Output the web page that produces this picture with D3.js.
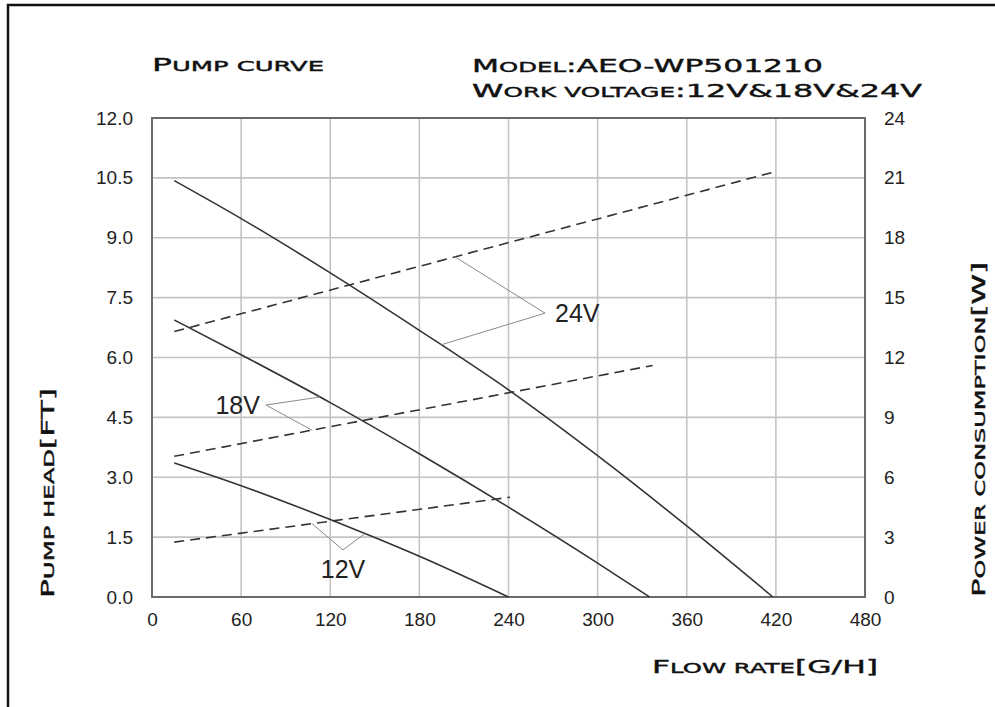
<!DOCTYPE html>
<html>
<head>
<meta charset="utf-8">
<script src="https://cdn.jsdelivr.net/npm/d3@7"></script>
<style>
  html, body { margin: 0; padding: 0; background: #fff; }
  svg { display: block; }
</style>
</head>
<body>
<svg id="chart" width="995" height="707"></svg>
<script>
// Flow-rate axis (G/H), head axis (FT) and power axis (W)
const flowTicks = [0, 60, 120, 180, 240, 300, 360, 420, 480];
const headTicks = [0, 1.5, 3, 4.5, 6, 7.5, 9, 10.5, 12];
const powerTicks = [0, 3, 6, 9, 12, 15, 18, 21, 24];

// Pump head curves: [flow, head]
const head24 = [[15, 10.43], [60, 9.48], [120, 8.12], [180, 6.68], [240, 5.19], [300, 3.54], [360, 1.78], [418, 0]];
const head18 = [[15, 6.94], [60, 6.07], [120, 4.87], [180, 3.59], [240, 2.25], [300, 0.85], [335, 0]];
const head12 = [[15, 3.36], [60, 2.79], [120, 1.94], [150, 1.49], [180, 1.02], [240, 0]];

// Power consumption lines: [flow, watts]
const power24 = [[15, 13.3], [419, 21.3]];
const power18 = [[15, 7.05], [337, 11.6]];
const power12 = [[15, 2.75], [241, 5.0]];

// Voltage callouts: vertex (flow, head), leader targets as flow positions on the curves
const callouts = [
  { label: "24V", vx: 264.6, vy: 7.11, powerSeries: power24, powerAt: 204, headSeries: head24, headAt: 194.6, anchor: "start", dx: 10, dy: 9 },
  { label: "18V", vx: 76.7, vy: 4.81, powerSeries: power18, powerAt: 107.7, headSeries: head18, headAt: 113, anchor: "end", dx: -6, dy: 9 },
  { label: "12V", vx: 128.6, vy: 1.18, powerSeries: power12, powerAt: 107.7, headSeries: head12, headAt: 143.4, anchor: "middle", dx: 0, dy: 28 }
];

const svg = d3.select("#chart");
const W = 995, H = 707;
const plot = { left: 152, top: 118, right: 865, bottom: 597 };

const x = d3.scaleLinear().domain([0, 480]).range([plot.left, plot.right]);
const yHead = d3.scaleLinear().domain([0, 12]).range([plot.bottom, plot.top]);
const yPower = d3.scaleLinear().domain([0, 24]).range([plot.bottom, plot.top]);

// outer frame (top and left edges)
svg.append("path")
  .attr("d", `M8,${H} L8,5 L${W},5`)
  .attr("fill", "none").attr("stroke", "#111").attr("stroke-width", 2.5);

// grid
const grid = svg.append("g");
grid.selectAll("line.v").data(flowTicks.slice(1, -1)).join("line")
  .attr("x1", d => x(d)).attr("x2", d => x(d))
  .attr("y1", plot.top).attr("y2", plot.bottom)
  .attr("stroke", "#c4c4c4").attr("stroke-width", 1.6);
grid.selectAll("line.h").data(headTicks.slice(1, -1)).join("line")
  .attr("x1", plot.left).attr("x2", plot.right)
  .attr("y1", d => yHead(d)).attr("y2", d => yHead(d))
  .attr("stroke", "#c4c4c4").attr("stroke-width", 1.6);

// plot border
svg.append("rect")
  .attr("x", plot.left).attr("y", plot.top)
  .attr("width", plot.right - plot.left).attr("height", plot.bottom - plot.top)
  .attr("fill", "none").attr("stroke", "#6a6a6a").attr("stroke-width", 2);

// axes (labels only, no tick marks)
const tickFont = "'Liberation Sans', Arial, sans-serif";
const axisLeft = d3.axisLeft(yHead).tickValues(headTicks).tickFormat(d3.format(".1f")).tickSize(0).tickPadding(19);
const axisRight = d3.axisRight(yPower).tickValues(powerTicks).tickFormat(d3.format("d")).tickSize(0).tickPadding(19);
const axisBottom = d3.axisBottom(x).tickValues(flowTicks).tickFormat(d3.format("d")).tickSize(0).tickPadding(16);

[[axisLeft, `translate(${plot.left},0)`], [axisRight, `translate(${plot.right},0)`], [axisBottom, `translate(0,${plot.bottom})`]]
  .forEach(([ax, tr]) => {
    const g = svg.append("g").attr("transform", tr).call(ax);
    g.select(".domain").remove();
    g.selectAll("text").attr("font-family", tickFont).attr("font-size", 19).attr("fill", "#222");
  });

// curves
const line = (ys) => d3.line().x(d => x(d[0])).y(d => ys(d[1]));
const smooth = (ys) => d3.line().x(d => x(d[0])).y(d => ys(d[1])).curve(d3.curveMonotoneX);

[head24, head18, head12].forEach(s => {
  svg.append("path").datum(s).attr("d", smooth(yHead))
    .attr("fill", "none").attr("stroke", "#333").attr("stroke-width", 1.6);
});
[power24, power18, power12].forEach(s => {
  svg.append("path").datum(s).attr("d", line(yPower))
    .attr("fill", "none").attr("stroke", "#333").attr("stroke-width", 1.6)
    .attr("stroke-dasharray", "10,6");
});

// linear interpolation along a series
function valueAt(series, fx) {
  for (let i = 0; i < series.length - 1; i++) {
    const [x0, y0] = series[i], [x1, y1] = series[i + 1];
    if (fx >= x0 && fx <= x1) return y0 + (y1 - y0) * (fx - x0) / (x1 - x0);
  }
  return series[series.length - 1][1];
}

// callouts
callouts.forEach(c => {
  const vx = x(c.vx), vy = yHead(c.vy);
  const p1 = [x(c.powerAt), yPower(valueAt(c.powerSeries, c.powerAt))];
  const p2 = [x(c.headAt), yHead(valueAt(c.headSeries, c.headAt))];
  svg.append("path")
    .attr("d", `M${p1[0]},${p1[1]} L${vx},${vy} L${p2[0]},${p2[1]}`)
    .attr("fill", "none").attr("stroke", "#8a8a8a").attr("stroke-width", 1);
  svg.append("text")
    .attr("x", vx + c.dx).attr("y", vy + c.dy)
    .attr("text-anchor", c.anchor)
    .attr("font-family", tickFont).attr("font-size", 25)
    .attr("fill", "#222")
    .text(c.label);
});

// titles in small caps: lowercase runs drawn as smaller capitals
const titleFont = "'DejaVu Sans', sans-serif";
function title(txt, tx, ty, len, rotate) {
  const t = svg.append("text")
    .attr("font-family", titleFont)
    .attr("font-size", 18)
    .attr("fill", "#111").attr("stroke", "#111").attr("stroke-width", 0.4)
    .attr("textLength", len).attr("lengthAdjust", "spacingAndGlyphs");
  const runs = txt.match(/[a-z ]+|[^a-z ]+/g);
  runs.forEach(r => {
    const small = /[a-z]/.test(r) || r.trim() === "";
    t.append("tspan")
      .attr("font-size", small ? 14 : 18)
      .text(small ? r.toUpperCase() : r);
  });
  if (rotate) {
    t.attr("transform", `translate(${tx},${ty}) rotate(-90)`);
  } else {
    t.attr("x", tx).attr("y", ty);
  }
}
title("Pump curve", 152, 71, 172);
title("Model:AEO-WP501210", 472, 72, 351);
title("Work voltage:12V&18V&24V", 472, 97, 450);
title("Flow rate[G/H]", 652, 673, 226);
title("Pump head[FT]", 54, 598, 210, true);
title("Power consumption[W]", 985, 597, 335, true);
</script>
</body>
</html>
